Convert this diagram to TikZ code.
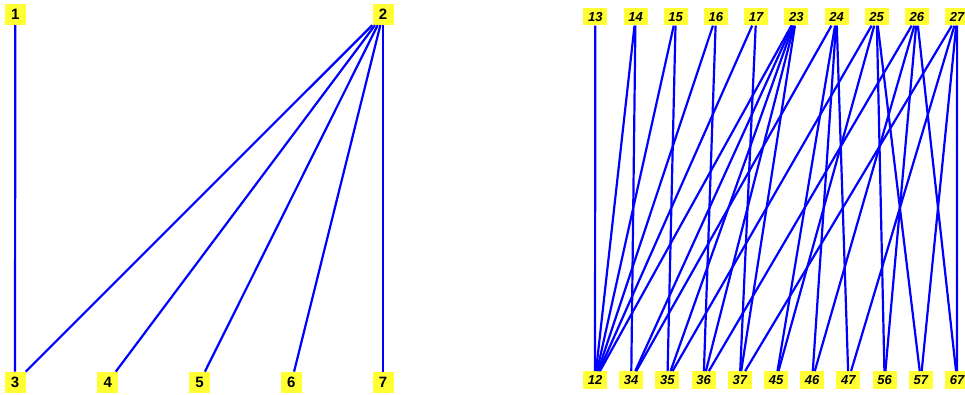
\documentclass[tikz,border=0pt]{standalone}
\usepackage{fontspec}
\setmainfont{Liberation Sans}
\definecolor{nodeyellow}{RGB}{255,255,51}
\definecolor{edgeblue}{RGB}{0,0,255}
\begin{document}
\begin{tikzpicture}[x=1pt,y=1pt,
  lnode/.style={fill=nodeyellow,inner sep=0pt,minimum width=21pt,minimum height=21pt,font=\fontsize{15}{15}\selectfont\bfseries},
  rnode/.style={fill=nodeyellow,inner sep=0pt,minimum width=24pt,minimum height=17.5pt,font=\fontsize{13}{13}\selectfont\bfseries\itshape},
  edge/.style={draw=edgeblue,line width=2.2pt}]
\useasboundingbox (0,0) rectangle (965,394);
% left graph
\node[lnode] (n1) at (15.3,379.5) {1};
\node[lnode] (n2) at (383,379.5) {2};
\node[lnode] (n3) at (15,11.7) {3};
\node[lnode] (n4) at (107.8,11.7) {4};
\node[lnode] (n5) at (199.6,11.7) {5};
\node[lnode] (n6) at (291.4,11.7) {6};
\node[lnode] (n7) at (383,11.7) {7};
\foreach \a/\b in {n1/n3,n2/n3,n2/n4,n2/n5,n2/n6,n2/n7}
  \draw[edge] (\a) -- (\b);
% right graph top
\foreach \l [count=\i from 0] in {13,14,15,16,17,23,24,25,26,27}
  \node[rnode] (t\l) at ({595.3+40.2*\i},377.3) {\l};
% right graph bottom
\foreach \l [count=\i from 0] in {12,34,35,36,37,45,46,47,56,57,67}
  \node[rnode] (b\l) at ({595+36.2*\i},14) {\l};
\foreach \a/\b in {13/12,14/12,14/34,15/12,15/35,16/12,16/36,17/12,17/37,
  23/12,23/34,23/35,23/36,23/37,
  24/34,24/45,24/46,24/47,
  25/35,25/45,25/56,25/57,
  26/36,26/46,26/56,26/67,
  27/37,27/47,27/57,27/67}
  \draw[edge] (t\a) -- (b\b);
\end{tikzpicture}
\end{document}
